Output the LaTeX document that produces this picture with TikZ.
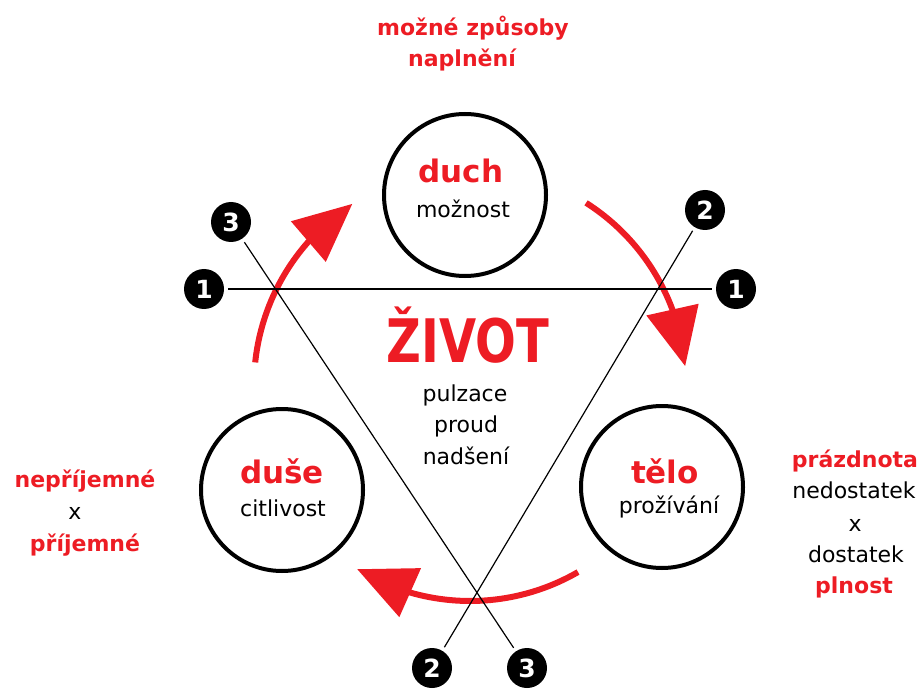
\documentclass[tikz,border=0pt]{standalone}
\usepackage{fontspec}
\setmainfont{DejaVu Sans}
\usetikzlibrary{arrows.meta,bending,calc}
\definecolor{lifered}{HTML}{ED1C24}

\begin{document}
\begin{tikzpicture}[x=1pt,y=1pt,
  big node/.style={circle,draw,line width=4pt,minimum size=162pt,inner sep=0pt},
  mark node/.style={circle,fill=black,minimum size=40pt,inner sep=0pt,text=white,
    font=\fontsize{25}{30}\selectfont\bfseries},
  head text/.style={anchor=base,text=lifered,font=\fontsize{31}{36}\selectfont\bfseries},
  plain text/.style={anchor=base,font=\fontsize{22}{26}\selectfont},
  red text/.style={anchor=base,text=lifered,font=\fontsize{22}{26}\selectfont\bfseries},
  cross line/.style={line width=1.2pt,shorten <=4pt,shorten >=4pt},
  flow arrow/.style={draw=lifered,line width=6pt,-{Triangle[length=58pt,width=52pt]}}]
  \useasboundingbox (0,0) rectangle (920,689);

  % the three circles
  \node[big node] (duch) at (465,494) {};
  \node[big node] (duse) at (282,199) {};
  \node[big node] (telo) at (662,202) {};

  % flow round the middle
  \coordinate (hub) at (470,304);
  \draw[flow arrow] ($(hub)+(174:216)$) arc[start angle=174,end angle=123,radius=216];
  \draw[flow arrow] ($(hub)+(57.5:216)$) arc[start angle=57.5,end angle=5,radius=216];
  \draw[flow arrow] ($(hub)+(-60:216)$) arc[start angle=-60,end angle=-121.5,radius=216];

  % numbered marks and their lines
  \node[mark node] (one-l) at (204,400) {1};
  \node[mark node] (one-r) at (736,400) {1};
  \node[mark node] (two-t) at (705,479) {2};
  \node[mark node] (two-b) at (432,21) {2};
  \node[mark node] (three-t) at (231,467) {3};
  \node[mark node] (three-b) at (527,21) {3};
  \draw[cross line] (one-l) -- (one-r);
  \draw[cross line] (two-t) -- (two-b);
  \draw[cross line] (three-t) -- (three-b);

  % texts
  \node[head text] (duch-name) at (461,506) {duch};
  \node[plain text] (duch-sub) at (463,471) {možnost};
  \node[head text] (duse-name) at (282,206) {duše};
  \node[plain text] (duse-sub) at (283,173) {citlivost};
  \node[head text] (telo-name) at (665,206) {tělo};
  \node[plain text] (telo-sub) at (669,176) {prožívání};

  \node[anchor=base,text=lifered,font=\fontsize{60}{66}\selectfont\bfseries] (zivot) at (468,327) {\scalebox{0.8}[1]{ŽIVOT}};
  \node[plain text] (pulz) at (465,288) {pulzace};
  \node[plain text] (proud) at (466,257) {proud};
  \node[plain text] (nads) at (466,225) {nadšení};

  \node[red text] (zpus) at (473,653) {možné způsoby};
  \node[red text] (napl) at (462,622) {naplnění};

  \node[red text] (nepr) at (85,202) {nepříjemné};
  \node[plain text] (x-l) at (75,170) {x};
  \node[red text] (prij) at (85,138) {příjemné};

  \node[red text] (prazd) at (855,222) {prázdnota};
  \node[plain text] (nedos) at (854,191) {nedostatek};
  \node[plain text] (x-r) at (855,158) {x};
  \node[plain text] (dost) at (856,127) {dostatek};
  \node[red text] (plno) at (854,96) {plnost};
\end{tikzpicture}
\end{document}
